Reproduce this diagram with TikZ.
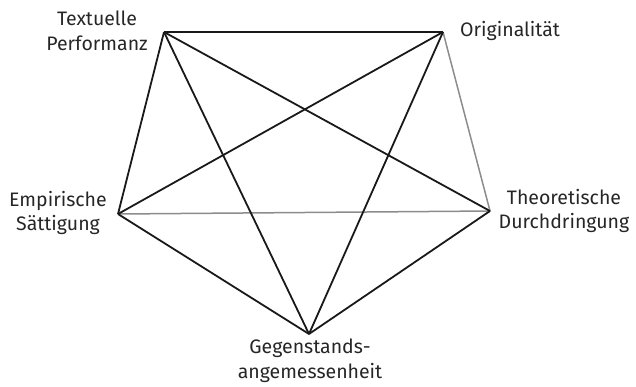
\documentclass[tikz,border=0pt]{standalone}
\usepackage{fontspec}
\setmainfont{Fira Sans}
\begin{document}
\begin{tikzpicture}[x=1pt,y=-1pt,
  lbl/.style={font=\fontsize{19.5}{24.5}\selectfont, text=black!85, align=center, inner sep=0pt},
  edge/.style={line width=1.8pt, black!90},
  grayedge/.style={line width=1.5pt, black!45}]
\useasboundingbox (0,0) rectangle (636,386);
\coordinate (T) at (164,32);
\coordinate (O) at (443,32);
\coordinate (E) at (118,214);
\coordinate (D) at (490,211);
\coordinate (G) at (309,334);
\draw[grayedge] (O) -- (D);
\draw[grayedge] (E) -- (D);
\draw[edge] (T) -- (O);
\draw[edge] (T) -- (E);
\draw[edge] (T) -- (D);
\draw[edge] (T) -- (G);
\draw[edge] (O) -- (E);
\draw[edge] (O) -- (G);
\draw[edge] (E) -- (G);
\draw[edge] (D) -- (G);
\node[lbl] (tl) at (97,31) {Textuelle\\Performanz};
\node[lbl, anchor=west] (ol) at (460,31) {Originalität};
\node[lbl] (el) at (58,213) {Empirische\\Sättigung};
\node[lbl] (dl) at (564,211) {Theoretische\\Durchdringung};
\node[lbl] (gl) at (310,361) {Gegenstands-\\angemessenheit};
\end{tikzpicture}
\end{document}
